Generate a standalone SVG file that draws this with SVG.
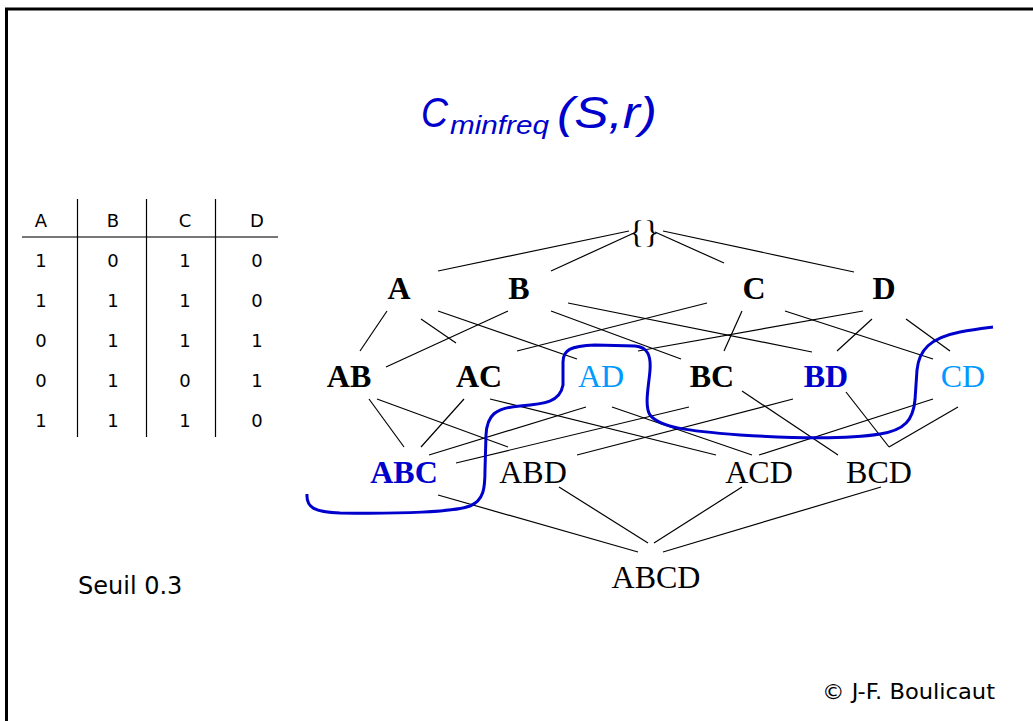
<svg xmlns="http://www.w3.org/2000/svg" width="1033" height="721" viewBox="0 0 1033 721">
<style>
.n{font-family:"Liberation Serif","Times New Roman",serif;font-size:32px;text-anchor:middle;fill:#000}
.b{font-weight:bold}
.dk{fill:#0000cc}
.lt{fill:#0099ff}
.tb{font-family:"DejaVu Sans",Verdana,sans-serif;font-size:18px;text-anchor:middle;fill:#000}
.ttl{font-family:"Comic Sans MS","Liberation Sans",sans-serif;font-style:italic;fill:#0000cc}
.e line{stroke:#000;stroke-width:1.2}
</style>
<rect width="1033" height="721" fill="#fff"/>
<path d="M6.5,721 V9 H1033" fill="none" stroke="#000" stroke-width="3"/>

<g id="title">
<text class="ttl" x="421" y="127" font-size="42" textLength="27" lengthAdjust="spacingAndGlyphs">C</text>
<text class="ttl" x="450" y="134" font-size="26" textLength="99" lengthAdjust="spacingAndGlyphs">minfreq</text>
<text class="ttl" x="557" y="128" font-size="44" textLength="100" lengthAdjust="spacingAndGlyphs">(S,r)</text>
</g>

<g id="table">
<line x1="22" y1="237" x2="278" y2="237" stroke="#777" stroke-width="2"/>
<line x1="77.5" y1="199" x2="77.5" y2="437" stroke="#000" stroke-width="1.2"/>
<line x1="146.5" y1="199" x2="146.5" y2="437" stroke="#000" stroke-width="1.2"/>
<line x1="215.5" y1="199" x2="215.5" y2="437" stroke="#000" stroke-width="1.2"/>
<text class="tb" x="41" y="227">A</text><text class="tb" x="113" y="227">B</text><text class="tb" x="185" y="227">C</text><text class="tb" x="257" y="227">D</text>
<text class="tb" x="41" y="267">1</text><text class="tb" x="113" y="267">0</text><text class="tb" x="185" y="267">1</text><text class="tb" x="257" y="267">0</text>
<text class="tb" x="41" y="307">1</text><text class="tb" x="113" y="307">1</text><text class="tb" x="185" y="307">1</text><text class="tb" x="257" y="307">0</text>
<text class="tb" x="41" y="347">0</text><text class="tb" x="113" y="347">1</text><text class="tb" x="185" y="347">1</text><text class="tb" x="257" y="347">1</text>
<text class="tb" x="41" y="387">0</text><text class="tb" x="113" y="387">1</text><text class="tb" x="185" y="387">0</text><text class="tb" x="257" y="387">1</text>
<text class="tb" x="41" y="427">1</text><text class="tb" x="113" y="427">1</text><text class="tb" x="185" y="427">1</text><text class="tb" x="257" y="427">0</text>
</g>

<g id="connectors" class="e">
<line x1="629" y1="231" x2="438" y2="271"/>
<line x1="634" y1="233" x2="551" y2="271"/>
<line x1="655" y1="232" x2="724" y2="263"/>
<line x1="663" y1="231" x2="854" y2="272"/>
<line x1="387" y1="311" x2="360" y2="351"/>
<line x1="421" y1="319" x2="456" y2="343"/>
<line x1="438" y1="311" x2="577" y2="359"/>
<line x1="508" y1="311" x2="386" y2="367"/>
<line x1="551" y1="311" x2="681" y2="359"/>
<line x1="568" y1="303" x2="812" y2="352"/>
<line x1="707" y1="303" x2="517" y2="351"/>
<line x1="742" y1="311" x2="724" y2="351"/>
<line x1="785" y1="311" x2="933" y2="359"/>
<line x1="863" y1="311" x2="638" y2="351"/>
<line x1="872" y1="319" x2="837" y2="351"/>
<line x1="906" y1="319" x2="950" y2="351"/>
<line x1="369" y1="399" x2="404" y2="447"/>
<line x1="377" y1="399" x2="508" y2="447"/>
<line x1="464" y1="399" x2="421" y2="447"/>
<line x1="490" y1="399" x2="716" y2="455"/>
<line x1="586" y1="407" x2="429" y2="455"/>
<line x1="612" y1="407" x2="752" y2="455"/>
<line x1="689" y1="407" x2="456" y2="463"/>
<line x1="793" y1="399" x2="577" y2="455"/>
<line x1="742" y1="391" x2="838" y2="455"/>
<line x1="933" y1="399" x2="759" y2="455"/>
<line x1="846" y1="392" x2="889" y2="447"/>
<line x1="958" y1="407" x2="889" y2="447"/>
<line x1="438" y1="495" x2="638" y2="552"/>
<line x1="559" y1="487" x2="648" y2="543"/>
<line x1="742" y1="487" x2="654" y2="543"/>
<line x1="881" y1="487" x2="663" y2="552"/>
</g>

<g id="border-curve">
<path d="M307,494 C306,508 315,512 340,513 C400,514 455,512 470,506 C484,500 485,488 485,470 L486,435 C487,415 495,408 520,406 C545,404 560,402 563,385 L563,362 C563,350 570,346 595,345 L635,346 C648,347 651,356 650,370 C649,385 644,405 650,415 C660,428 690,431 740,435 C790,438 850,439 880,434 C905,430 913,420 915,400 L917,370 C919,350 930,338 960,332 C975,329 985,328 993,327" fill="none" stroke="#0000cc" stroke-width="3"/>
</g>

<g id="n-empty"><text class="n" x="644" y="243" fill="#333">{}</text></g>
<g id="n-A"><text class="n b" x="399" y="299">A</text></g>
<g id="n-B"><text class="n b" x="519" y="299">B</text></g>
<g id="n-C"><text class="n b" x="754" y="299">C</text></g>
<g id="n-D"><text class="n b" x="884" y="299">D</text></g>
<g id="n-AB"><text class="n b" x="349" y="387">AB</text></g>
<g id="n-AC"><text class="n b" x="479" y="387">AC</text></g>
<g id="n-AD"><text class="n lt" x="601" y="387">AD</text></g>
<g id="n-BC"><text class="n b" x="712" y="387">BC</text></g>
<g id="n-BD"><text class="n b dk" x="826" y="387">BD</text></g>
<g id="n-CD"><text class="n lt" x="963" y="387">CD</text></g>
<g id="n-ABC"><text class="n b dk" x="404" y="483">ABC</text></g>
<g id="n-ABD"><text class="n" x="533" y="483">ABD</text></g>
<g id="n-ACD"><text class="n" x="759" y="483">ACD</text></g>
<g id="n-BCD"><text class="n" x="879" y="483">BCD</text></g>
<g id="n-ABCD"><text class="n" x="656" y="588">ABCD</text></g>

<g id="notes">
<text x="78" y="594" font-family="DejaVu Sans,Verdana,sans-serif" font-size="24" fill="#000">Seuil 0.3</text>
<text x="822" y="699" font-family="DejaVu Sans,Verdana,sans-serif" font-size="22" fill="#000" textLength="173" lengthAdjust="spacingAndGlyphs">© J-F. Boulicaut</text>
</g>
</svg>
